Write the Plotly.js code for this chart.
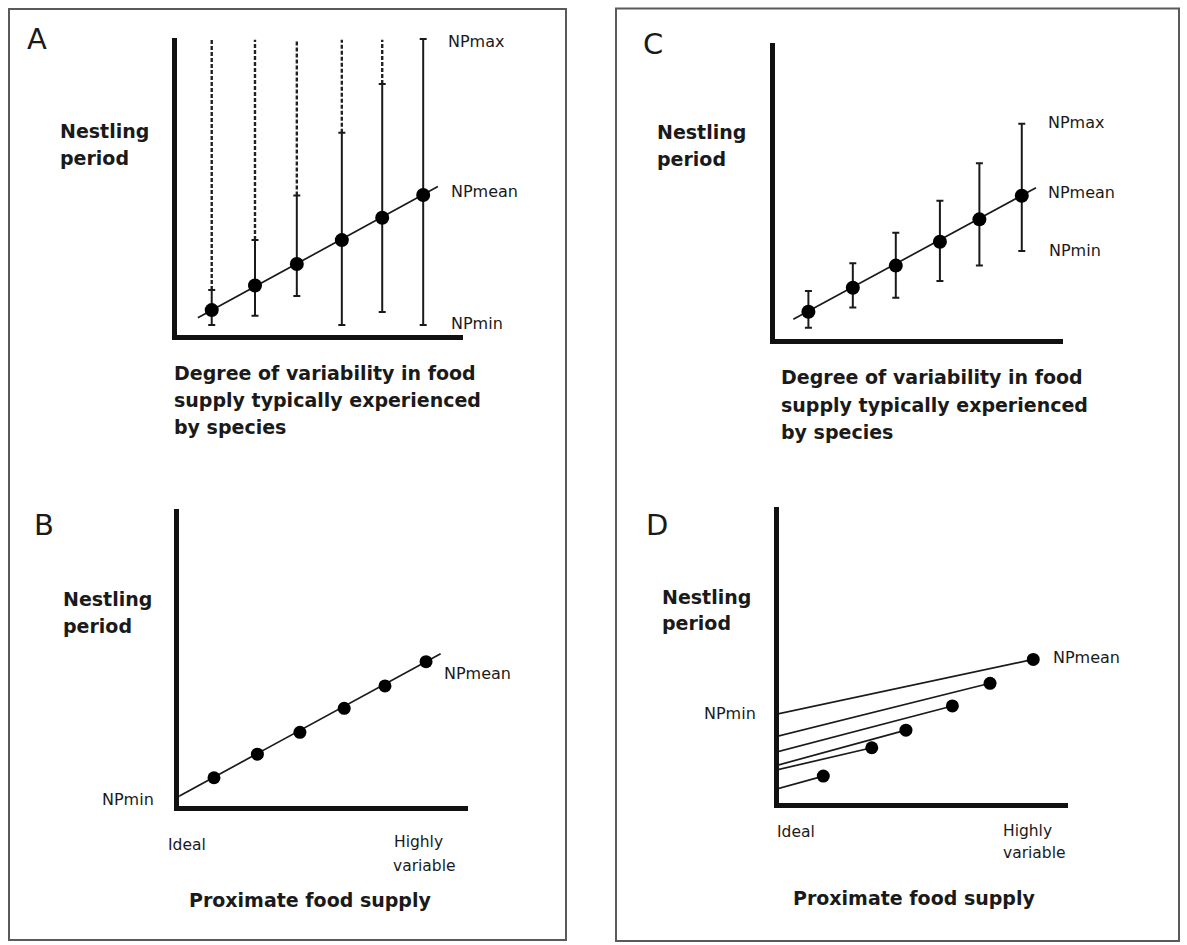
<!DOCTYPE html>
<html>
<head>
<meta charset="utf-8">
<script src="https://cdn.plot.ly/plotly-3.0.1.min.js"></script>
<style>html,body{margin:0;padding:0;background:#fff;}#chart{width:1187px;height:945px;}</style>
</head>
<body>
<div id="chart"></div>
<script>
// ---------------- DATA (axes in 0–100 relative units) ----------------
// Panel A
const aX      = [12.9, 27.9, 42.4, 58.0, 72.0, 86.2];
const aMean   = [9.0, 17.2, 24.4, 32.4, 39.9, 47.5];
const aHigh   = [15.7, 32.4, 47.3, 68.3, 84.6, 99.7];   // top of solid bar
const aLow    = [4.0, 7.1, 13.7, 4.0, 8.4, 4.0];
const aMax    = [99.4, 99.4, 99.4, 99.4, 99.4, 99.7];   // top of dashed extension (NPmax)
const aLineX  = [8.1, 91.3];
const aLineY  = [6.45, 50.3];
// Panel B
const bX      = [12.8, 27.7, 42.3, 57.5, 71.5, 85.6];
const bMean   = [10.2, 18.1, 25.4, 33.4, 40.9, 49.0];
const bLineX  = [0.5, 90.6];
const bLineY  = [3.9, 51.6];
// Panel C
const cX      = [12.3, 27.6, 42.4, 57.6, 71.2, 85.8];
const cMean   = [10.05, 18.1, 25.5, 33.5, 41.0, 48.9];
const cHigh   = [17.0, 26.3, 36.5, 47.2, 59.8, 73.0];
const cLow    = [4.7, 11.5, 14.7, 20.3, 25.5, 30.4];
const cLineX  = [7.1, 90.7];
const cLineY  = [7.5, 51.6];
// Panel D
const dX      = [16.2, 32.8, 44.5, 60.4, 73.3, 88.1];
const dMean   = [9.7, 19.2, 25.1, 33.2, 40.8, 48.8];
const dStart  = [5.3, 11.7, 13.2, 17.7, 22.9, 30.4];   // value at "Ideal" (x = 0)

// Text
const panelLetters = ['A', 'B', 'C', 'D'];
const yTitleLines  = ['Nestling', 'period'];
const xTitleVar    = ['Degree of variability in food', 'supply typically experienced', 'by species'];
const xTitleProx   = 'Proximate food supply';
const xTickText    = ['Ideal', 'Highly', 'variable'];
const npLabels     = ['NPmax', 'NPmean', 'NPmin'];

// ---------------- LAYOUT / STYLE ----------------
const W = 1187, H = 945, LW = 5;
const INK = '#1a1a1a';
const panels = {
  A: {ax: 'x',  ay: 'y',  yLineX: 174.5, xLineY: 337,   yTop: 38,    xEnd: 463},
  B: {ax: 'x2', ay: 'y2', yLineX: 176.7, xLineY: 808.3, yTop: 509,   xEnd: 468},
  C: {ax: 'x3', ay: 'y3', yLineX: 772.7, xLineY: 341.7, yTop: 43.3,  xEnd: 1063},
  D: {ax: 'x4', ay: 'y4', yLineX: 776,   xLineY: 805,   yTop: 506.7, xEnd: 1068}
};
const px = v => v / W;
const py = v => 1 - v / H;

const layout = {
  width: W, height: H,
  margin: {l: 0, r: 0, t: 0, b: 0},
  paper_bgcolor: '#fff', plot_bgcolor: 'rgba(0,0,0,0)',
  showlegend: false,
  font: {family: 'DejaVu Sans, sans-serif', color: INK},
  annotations: [],
  shapes: [
    {type: 'rect', xref: 'paper', yref: 'paper', x0: px(9), x1: px(566), y0: py(940), y1: py(9),
     line: {color: '#5a5a5a', width: 2}},
    {type: 'rect', xref: 'paper', yref: 'paper', x0: px(616), x1: px(1179), y0: py(941), y1: py(8.5),
     line: {color: '#5a5a5a', width: 2}}
  ]
};

Object.keys(panels).forEach(k => {
  const p = panels[k];
  const ppuX = (p.xEnd - p.yLineX) / 100;
  const ppuY = (p.xLineY - p.yTop) / 100;
  const xName = 'xaxis' + p.ax.slice(1);
  const yName = 'yaxis' + p.ay.slice(1);
  const common = {showgrid: false, zeroline: false, showticklabels: false, ticks: '',
                  showline: true, linecolor: '#111', linewidth: LW, fixedrange: true};
  layout[xName] = Object.assign({}, common, {
    domain: [px(p.yLineX + LW / 2), px(p.xEnd)],
    range: [(LW / 2) / ppuX, 100], anchor: p.ay
  });
  layout[yName] = Object.assign({}, common, {
    domain: [py(p.xLineY - LW / 2), py(p.yTop)],
    range: [(LW / 2) / ppuY, 100], anchor: p.ax
  });
});

function ann(text, x, y, size, bold, extra) {
  layout.annotations.push(Object.assign({
    text: bold ? '<b>' + text + '</b>' : text,
    xref: 'paper', yref: 'paper', x: px(x), y: py(y),
    xanchor: 'left', yanchor: 'middle', showarrow: false,
    font: {family: 'DejaVu Sans, sans-serif', size: size, color: INK}
  }, extra || {}));
}

// Panel letters
ann(panelLetters[0], 25, 39, 29, false);
ann(panelLetters[1], 32, 525, 29, false);
ann(panelLetters[2], 641, 44, 29, false);
ann(panelLetters[3], 644, 525, 29, false);

// y titles
[[58, 131, 158], [61, 599, 626], [655, 132, 159], [660, 597, 623]].forEach(t => {
  ann(yTitleLines[0], t[0], t[1], 19, true);
  ann(yTitleLines[1], t[0], t[2], 19, true);
});

// x titles (A, C)
[[172, 373, 400, 427], [779, 377, 405, 432]].forEach(t => {
  ann(xTitleVar[0], t[0], t[1], 19, true);
  ann(xTitleVar[1], t[0], t[2], 19, true);
  ann(xTitleVar[2], t[0], t[3], 19, true);
});
// x titles (B, D)
ann(xTitleProx, 187, 900, 19, true);
ann(xTitleProx, 791, 898, 19, true);

// x tick texts (B, D)
ann(xTickText[0], 166, 845, 15.5, false);
ann(xTickText[1], 392, 842, 15.5, false);
ann(xTickText[2], 391, 866, 15.5, false);
ann(xTickText[0], 775, 832, 15.5, false);
ann(xTickText[1], 1001, 831, 15.5, false);
ann(xTickText[2], 1001, 853, 15.5, false);

// NP labels
ann(npLabels[0], 446, 42, 16, false);
ann(npLabels[1], 449, 192, 16, false);
ann(npLabels[2], 449, 323, 16, false);
ann(npLabels[1], 442, 673, 16, false);
ann(npLabels[2], 100, 799, 16, false);
ann(npLabels[0], 1046, 123, 16, false);
ann(npLabels[1], 1046, 193, 16, false);
ann(npLabels[2], 1047, 250, 16, false);
ann(npLabels[1], 1051, 657, 16, false);
ann(npLabels[2], 702, 713, 16, false);

// ---------------- TRACES ----------------
const traces = [];
const lineStyle = {color: INK, width: 1.7};
const marker = s => ({color: '#000', size: s, symbol: 'circle', line: {width: 0}});
const errStyle = (hi, lo, mean) => ({
  type: 'data', symmetric: false,
  array: hi.map((v, i) => v - mean[i]),
  arrayminus: lo.map((v, i) => mean[i] - v),
  color: INK, thickness: 2, width: 3.5
});

function segs(xs, y0s, y1s) {
  const X = [], Y = [];
  xs.forEach((x, i) => { X.push(x, x, null); Y.push(y0s[i], y1s[i], null); });
  return {X, Y};
}

// Panel A
const aDash = segs(aX.slice(0, 5), aHigh.slice(0, 5), aMax.slice(0, 5));
traces.push({x: aDash.X, y: aDash.Y, xaxis: 'x', yaxis: 'y', mode: 'lines',
  line: {color: '#222', width: 2.4, dash: '4px,2px'}, hoverinfo: 'skip'});
traces.push({x: aLineX, y: aLineY, xaxis: 'x', yaxis: 'y', mode: 'lines', line: lineStyle, hoverinfo: 'skip'});
traces.push({x: aX, y: aMean, xaxis: 'x', yaxis: 'y', mode: 'markers', marker: marker(14),
  error_y: errStyle(aHigh, aLow, aMean)});

// Panel B
traces.push({x: bLineX, y: bLineY, xaxis: 'x2', yaxis: 'y2', mode: 'lines', line: lineStyle, hoverinfo: 'skip'});
traces.push({x: bX, y: bMean, xaxis: 'x2', yaxis: 'y2', mode: 'markers', marker: marker(13)});

// Panel C
traces.push({x: cLineX, y: cLineY, xaxis: 'x3', yaxis: 'y3', mode: 'lines', line: lineStyle, hoverinfo: 'skip'});
traces.push({x: cX, y: cMean, xaxis: 'x3', yaxis: 'y3', mode: 'markers', marker: marker(14),
  error_y: errStyle(cHigh, cLow, cMean)});

// Panel D
dX.forEach((x, i) => {
  traces.push({x: [0, x], y: [dStart[i], dMean[i]], xaxis: 'x4', yaxis: 'y4', mode: 'lines',
    line: lineStyle, hoverinfo: 'skip'});
});
traces.push({x: dX, y: dMean, xaxis: 'x4', yaxis: 'y4', mode: 'markers', marker: marker(13)});

Plotly.newPlot('chart', traces, layout, {staticPlot: true, displayModeBar: false});
</script>
</body>
</html>
